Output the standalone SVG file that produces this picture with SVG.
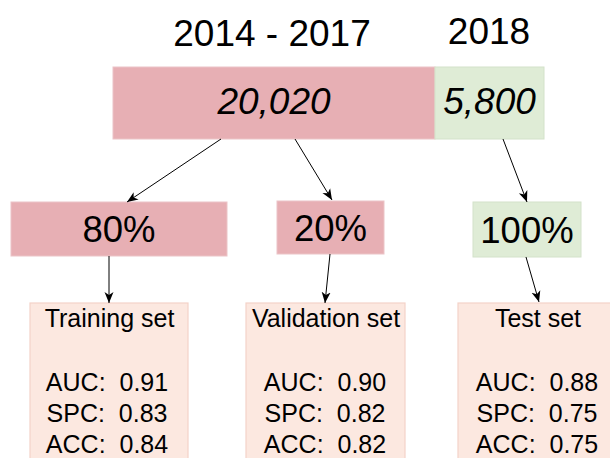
<svg xmlns="http://www.w3.org/2000/svg" width="610" height="458" viewBox="0 0 610 458">
<style>
text{font-family:"Liberation Sans",Arial,sans-serif;fill:#000;text-anchor:middle}
.hdr{font-size:37px}
.big{font-size:37px;font-style:italic}
.pct{font-size:36.5px}
.lbl{font-size:25px}
.pink{fill:#E7AFB4;stroke:#EBC4C7;stroke-width:1}
.green{fill:#DFECD6;stroke:#D3E2CA;stroke-width:1}
.peach{fill:#FCE8E0;stroke:#F3D2C8;stroke-width:1.2}
.conn line{stroke:#000;stroke-width:1;marker-end:url(#arr)}
</style>
<defs>
<marker id="arr" viewBox="0 0 12 10" refX="11" refY="5" markerWidth="12" markerHeight="10" markerUnits="userSpaceOnUse" orient="auto">
<path d="M0,0.5 L11,5 L0,9.5 L3,5 Z" fill="#000"/>
</marker>
</defs>
<g id="headers">
<text class="hdr" x="272" y="46">2014 - 2017</text>
<text class="hdr" x="489" y="43.5">2018</text>
</g>
<g id="n2014">
<rect class="pink" x="113" y="67" width="322" height="72"/>
<text class="big" x="274" y="113.5">20,020</text>
</g>
<g id="n2018">
<rect class="green" x="435" y="67" width="109" height="72"/>
<text class="big" x="489.5" y="113.5">5,800</text>
</g>
<g id="p80">
<rect class="pink" x="11" y="202" width="216" height="54"/>
<text class="pct" x="119" y="242">80%</text>
</g>
<g id="p20">
<rect class="pink" x="277" y="201" width="107" height="53"/>
<text class="pct" x="330.5" y="240.5">20%</text>
</g>
<g id="p100">
<rect class="green" x="473" y="202" width="108" height="55"/>
<text class="pct" x="527" y="242.5">100%</text>
</g>
<g id="train">
<rect class="peach" x="30" y="303" width="158" height="170"/>
<text class="lbl" x="109.5" y="327">Training set</text>
<text class="lbl" x="107" y="391" xml:space="preserve">AUC:  0.91</text>
<text class="lbl" x="107" y="422" xml:space="preserve">SPC:  0.83</text>
<text class="lbl" x="107" y="453" xml:space="preserve">ACC:  0.84</text>
</g>
<g id="valid">
<rect class="peach" x="246" y="303" width="159" height="170"/>
<text class="lbl" x="326" y="327">Validation set</text>
<text class="lbl" x="325" y="391" xml:space="preserve">AUC:  0.90</text>
<text class="lbl" x="325" y="422" xml:space="preserve">SPC:  0.82</text>
<text class="lbl" x="325" y="453" xml:space="preserve">ACC:  0.82</text>
</g>
<g id="test">
<rect class="peach" x="458" y="303" width="160" height="170"/>
<text class="lbl" x="538" y="327">Test set</text>
<text class="lbl" x="537" y="391" xml:space="preserve">AUC:  0.88</text>
<text class="lbl" x="537" y="422" xml:space="preserve">SPC:  0.75</text>
<text class="lbl" x="537" y="453" xml:space="preserve">ACC:  0.75</text>
</g>
<g class="conn" id="connectors">
<line x1="221" y1="139" x2="127" y2="202"/>
<line x1="295" y1="139" x2="332" y2="200"/>
<line x1="503" y1="139" x2="527" y2="202"/>
<line x1="109" y1="256" x2="109" y2="303"/>
<line x1="330" y1="254" x2="325" y2="303"/>
<line x1="526" y1="257" x2="539" y2="302"/>
</g>
</svg>
